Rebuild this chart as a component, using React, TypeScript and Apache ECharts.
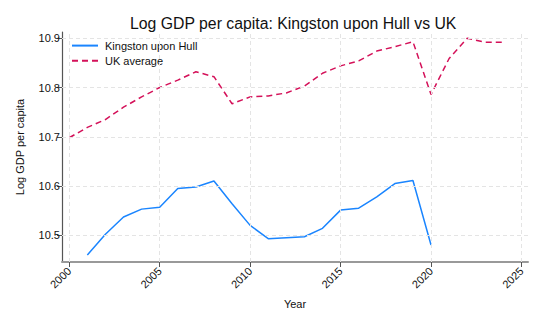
import React, { useEffect, useRef } from "react";
import * as echarts from "echarts";

const years = [2000, 2001, 2002, 2003, 2004, 2005, 2006, 2007, 2008, 2009, 2010, 2011, 2012, 2013, 2014, 2015, 2016, 2017, 2018, 2019, 2020, 2021, 2022, 2023, 2024];
const hullValues = [null, 10.46, 10.502, 10.537, 10.553, 10.557, 10.595, 10.598, 10.61, 10.564, 10.52, 10.493, 10.495, 10.497, 10.514, 10.551, 10.555, 10.578, 10.605, 10.611, 10.48, null, null, null, null];
const ukValues = [10.698, 10.719, 10.735, 10.76, 10.781, 10.8, 10.815, 10.832, 10.822, 10.767, 10.781, 10.783, 10.789, 10.803, 10.829, 10.844, 10.854, 10.874, 10.883, 10.893, 10.786, 10.859, 10.9, 10.892, 10.892];
const xTicks = [2000, 2005, 2010, 2015, 2020, 2025];
const yTicks = [10.5, 10.6, 10.7, 10.8, 10.9];
const seriesNames = ["Kingston upon Hull", "UK average"];

const FONT = "'Liberation Sans', Arial, Helvetica, sans-serif";

export default function App() {
  const ref = useRef<HTMLDivElement>(null);
  useEffect(() => {
    document.body.style.margin = "0";
    const chart = echarts.init(ref.current!, null, { renderer: "svg" });
    const hullData = years
      .map((y, i) => [y, hullValues[i]])
      .filter((d) => d[1] !== null);
    const ukData = years.map((y, i) => [y, ukValues[i]]);
    const gridStyle = { color: "#e4e4e4", type: [4, 3], width: 1 };
    chart.setOption({
      animation: false,
      textStyle: { fontFamily: FONT },
      title: {
        text: "Log GDP per capita: Kingston upon Hull vs UK",
        left: 125,
        top: 10,
        textStyle: { fontFamily: FONT, fontSize: 15.8, fontWeight: "normal", color: "#111" },
      },
      legend: {
        data: seriesNames,
        orient: "vertical",
        left: 66,
        top: 35,
        itemWidth: 26,
        itemHeight: 14,
        itemGap: 4,
        itemStyle: { opacity: 0 },
        textStyle: { fontFamily: FONT, fontSize: 11, color: "#111", padding: [0, 0, 0, 2] },
      },
      grid: { left: 62, right: 12, top: 32, bottom: 62, containLabel: false },
      xAxis: {
        type: "value",
        min: 1999.6,
        max: 2025.36,
        name: "Year",
        nameLocation: "middle",
        nameGap: 36,
        nameTextStyle: { fontFamily: FONT, fontSize: 11, color: "#111" },
        axisLine: { show: true, lineStyle: { color: "#999", width: 2 } },
        axisTick: { show: true, customValues: xTicks, length: 5, lineStyle: { color: "#555", width: 1 } },
        axisLabel: {
          customValues: xTicks,
          rotate: 45,
          margin: 7,
          fontFamily: FONT,
          fontSize: 11,
          color: "#111",
          formatter: (v: number) => String(v),
        },
        splitLine: { show: false },
      },
      yAxis: {
        type: "value",
        min: 10.4456,
        max: 10.9128,
        name: "Log GDP per capita",
        nameLocation: "middle",
        nameGap: 37,
        nameTextStyle: { fontFamily: FONT, fontSize: 11, color: "#111" },
        axisLine: { show: true, lineStyle: { color: "#555", width: 1.2 } },
        axisTick: { show: true, customValues: yTicks, length: 5, lineStyle: { color: "#555", width: 1 } },
        axisLabel: {
          customValues: yTicks,
          margin: 2,
          fontFamily: FONT,
          fontSize: 11,
          color: "#111",
          formatter: (v: number) => v.toFixed(1),
        },
        splitLine: { show: false },
      },
      series: [
        {
          type: "line",
          name: "grid",
          data: [],
          z: 0,
          silent: true,
          markLine: {
            silent: true,
            symbol: ["none", "none"],
            label: { show: false },
            lineStyle: gridStyle,
            emphasis: { disabled: true },
            data: [
              ...xTicks.map((x) => ({ xAxis: x })),
              ...yTicks.map((y) => ({ yAxis: y })),
            ],
          },
        },
        {
          type: "line",
          name: seriesNames[0],
          data: hullData,
          symbol: "none",
          z: 3,
          lineStyle: { color: "#1a85ff", width: 1.5 },
          itemStyle: { color: "#1a85ff" },
        },
        {
          type: "line",
          name: seriesNames[1],
          data: ukData,
          symbol: "none",
          z: 3,
          lineStyle: { color: "#d41159", width: 1.5, type: [6, 4] },
          itemStyle: { color: "#d41159" },
        },
      ],
    });
    return () => chart.dispose();
  }, []);
  return <div ref={ref} style={{ width: 540, height: 324 }} />;
}
